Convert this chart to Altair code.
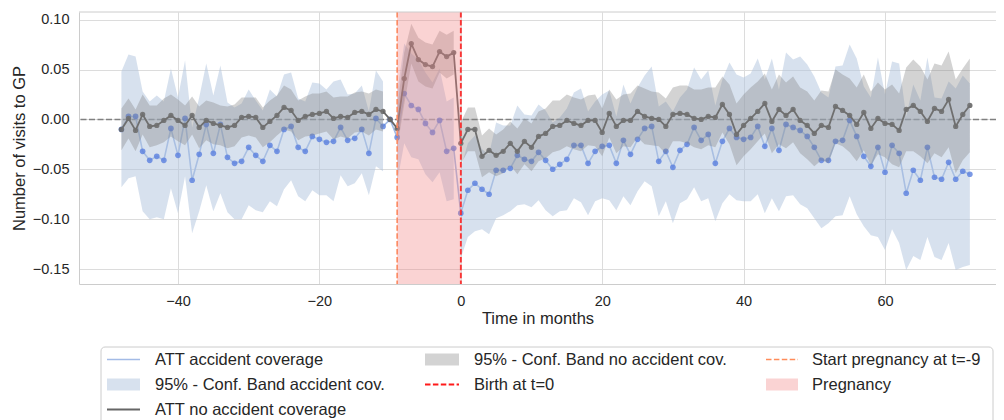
import altair as alt
import pandas as pd

# ---------------- data ----------------
months = list(range(-48, 73))

att_acc = [-0.010, 0.003, 0.003, -0.032, -0.041, -0.037, -0.041, -0.009, -0.036, 0.001,
           -0.061, -0.035, -0.005, -0.034, -0.005, -0.038, -0.044, -0.042, -0.028, -0.036,
           -0.042, -0.026, -0.032, -0.010, -0.007, -0.028, -0.032, -0.017, -0.020, -0.023,
           -0.022, -0.008, -0.021, -0.019, -0.010, -0.034, 0.001, -0.007, 0.000, -0.018,
           0.026, 0.014, 0.010, -0.004, -0.013, -0.001, -0.032, -0.029, -0.094, -0.071,
           -0.064, -0.070, -0.075, -0.051, -0.051, -0.049, -0.036, -0.040, -0.042, -0.033,
           -0.041, -0.050, -0.045, -0.040, -0.026, -0.026, -0.044, -0.032, -0.027, -0.026,
           -0.044, -0.021, -0.035, -0.020, -0.009, -0.007, -0.042, -0.032, -0.048, -0.031,
           -0.025, -0.008, -0.021, -0.015, -0.044, -0.022, -0.009, -0.018, -0.020, -0.018,
           -0.007, -0.027, -0.009, -0.031, -0.005, -0.008, -0.011, -0.017, -0.028, -0.041,
           -0.041, -0.022, -0.021, -0.001, -0.017, -0.037, -0.047, -0.028, -0.053, -0.026,
           -0.034, -0.074, -0.051, -0.061, -0.028, -0.058, -0.060, -0.043, -0.060, -0.052,
           -0.055]

acc_lo = [-0.068, -0.059, -0.057, -0.092, -0.100, -0.098, -0.100, -0.069, -0.094, -0.057,
          -0.114, -0.092, -0.066, -0.092, -0.074, -0.093, -0.100, -0.100, -0.086, -0.091,
          -0.093, -0.082, -0.087, -0.070, -0.061, -0.077, -0.082, -0.071, -0.076, -0.076,
          -0.082, -0.056, -0.067, -0.064, -0.054, -0.076, -0.047, -0.052, None, -0.063,
          -0.024, -0.038, -0.040, -0.055, -0.063, -0.053, -0.082, -0.080, -0.139, -0.118,
          -0.112, -0.110, -0.115, -0.099, -0.096, -0.092, -0.086, -0.085, -0.088, -0.081,
          -0.091, -0.097, -0.092, -0.091, -0.079, -0.083, -0.096, -0.082, -0.079, -0.081,
          -0.091, -0.077, -0.086, -0.072, -0.062, -0.067, -0.097, -0.082, -0.104, -0.084,
          -0.080, -0.068, -0.082, -0.079, -0.102, -0.084, -0.075, -0.081, -0.082, -0.082,
          -0.075, -0.094, -0.079, -0.092, -0.077, -0.076, -0.085, -0.089, -0.099, -0.109,
          -0.104, -0.097, -0.096, -0.077, -0.095, -0.107, -0.116, -0.118, -0.131, -0.110,
          -0.124, -0.151, -0.137, -0.141, -0.118, -0.138, -0.141, -0.124, -0.151, -0.148,
          -0.146]

acc_hi = [0.048, 0.065, 0.063, 0.028, 0.018, 0.024, 0.018, 0.051, 0.022, 0.059,
          -0.008, 0.022, 0.056, 0.024, 0.054, 0.017, 0.012, 0.016, 0.030, 0.019,
          0.009, 0.030, 0.023, 0.045, 0.047, 0.021, 0.018, 0.037, 0.036, 0.030,
          0.038, 0.040, 0.025, 0.026, 0.034, 0.008, 0.049, 0.038, None, 0.027,
          0.076, 0.066, 0.060, 0.047, 0.037, 0.051, 0.018, 0.022, -0.049, -0.024,
          -0.016, -0.030, -0.035, -0.003, -0.006, -0.006, 0.014, 0.005, 0.004, 0.015,
          0.009, -0.003, 0.002, 0.011, 0.027, 0.031, 0.008, 0.018, 0.025, 0.029,
          0.003, 0.035, 0.016, 0.032, 0.044, 0.053, 0.013, 0.018, 0.008, 0.022,
          0.030, 0.052, 0.040, 0.049, 0.014, 0.040, 0.057, 0.045, 0.042, 0.046,
          0.061, 0.040, 0.061, 0.030, 0.067, 0.060, 0.063, 0.055, 0.043, 0.027,
          0.022, 0.053, 0.054, 0.075, 0.061, 0.033, 0.022, 0.062, 0.025, 0.058,
          0.056, 0.003, 0.035, 0.019, 0.062, 0.022, 0.021, 0.038, 0.031, 0.044,
          0.036]

att_noacc = [-0.010, 0.001, -0.011, 0.005, -0.007, -0.006, -0.001, 0.004, -0.001, -0.006,
             0.004, -0.008, -0.001, -0.004, -0.006, -0.008, -0.006, 0.002, 0.003, 0.002,
             -0.008, -0.002, 0.004, 0.012, 0.009, -0.001, 0.003, 0.005, 0.006, 0.008,
             0.001, 0.003, 0.002, 0.007, 0.008, 0.005, 0.010, 0.008, 0.000, -0.009,
             0.041, 0.076, 0.060, 0.055, 0.053, 0.068, 0.063, 0.067, -0.024, -0.010,
             -0.010, -0.037, -0.031, -0.036, -0.032, -0.024, -0.032, -0.022, -0.028, -0.017,
             -0.014, -0.007, -0.006, -0.001, -0.004, -0.006, -0.001, -0.001, -0.013, 0.006,
             -0.007, -0.001, -0.001, 0.008, 0.003, 0.001, 0.000, -0.007, 0.005, 0.006,
             0.005, 0.001, 0.000, 0.003, 0.002, 0.015, 0.005, -0.015, -0.006, 0.001,
             0.008, 0.016, -0.002, 0.010, 0.004, 0.010, -0.001, -0.006, -0.014, -0.006,
             -0.008, 0.013, 0.009, 0.004, -0.005, 0.007, -0.009, 0.001, -0.004, -0.005,
             -0.011, 0.010, 0.014, 0.008, -0.002, 0.011, 0.008, 0.020, -0.007, 0.005,
             0.014]

noacc_lo = [-0.031, -0.019, -0.032, -0.015, -0.028, -0.026, -0.023, -0.017, -0.022, -0.026,
            -0.015, -0.029, -0.021, -0.025, -0.026, -0.029, -0.027, -0.018, -0.016, -0.018,
            -0.028, -0.023, -0.016, -0.010, -0.012, -0.021, -0.017, -0.016, -0.014, -0.012,
            -0.020, -0.017, -0.019, -0.013, -0.012, -0.016, -0.010, -0.012, None, -0.029,
            0.015, 0.056, 0.038, 0.033, 0.031, 0.047, 0.041, 0.045, -0.045, -0.032,
            -0.032, -0.058, -0.053, -0.057, -0.054, -0.046, -0.055, -0.045, -0.052, -0.042,
            -0.039, -0.033, -0.031, -0.027, -0.030, -0.032, -0.026, -0.027, -0.037, -0.018,
            -0.034, -0.027, -0.028, -0.018, -0.025, -0.026, -0.027, -0.035, -0.022, -0.022,
            -0.024, -0.028, -0.030, -0.026, -0.028, -0.013, -0.025, -0.046, -0.037, -0.030,
            -0.022, -0.014, -0.034, -0.025, -0.029, -0.023, -0.034, -0.040, -0.047, -0.041,
            -0.044, -0.024, -0.027, -0.033, -0.042, -0.031, -0.046, -0.035, -0.038, -0.045,
            -0.048, -0.032, -0.032, -0.037, -0.044, -0.034, -0.038, -0.028, -0.054, -0.041,
            -0.033]

noacc_hi = [0.011, 0.021, 0.010, 0.025, 0.014, 0.014, 0.021, 0.025, 0.020, 0.014,
            0.023, 0.013, 0.019, 0.017, 0.014, 0.013, 0.015, 0.022, 0.022, 0.022,
            0.012, 0.019, 0.024, 0.034, 0.030, 0.019, 0.023, 0.026, 0.026, 0.028,
            0.022, 0.023, 0.023, 0.027, 0.028, 0.026, 0.030, 0.028, None, 0.011,
            0.067, 0.096, 0.082, 0.077, 0.075, 0.089, 0.085, 0.089, -0.003, 0.012,
            0.012, -0.016, -0.009, -0.015, -0.010, -0.002, -0.009, 0.001, -0.004, 0.008,
            0.011, 0.019, 0.019, 0.025, 0.022, 0.020, 0.024, 0.025, 0.011, 0.030,
            0.020, 0.025, 0.026, 0.034, 0.031, 0.028, 0.027, 0.021, 0.032, 0.034,
            0.034, 0.030, 0.030, 0.032, 0.032, 0.043, 0.035, 0.016, 0.025, 0.032,
            0.038, 0.046, 0.030, 0.045, 0.037, 0.043, 0.032, 0.028, 0.019, 0.029,
            0.028, 0.050, 0.045, 0.041, 0.032, 0.045, 0.028, 0.037, 0.030, 0.035,
            0.026, 0.052, 0.060, 0.053, 0.040, 0.056, 0.054, 0.068, 0.040, 0.051,
            0.061]

preg_start = -9
birth = 0

legend_labels = ["ATT accident coverage", "95% - Conf. Band accident cov.",
                 "ATT no accident coverage", "95% - Conf. Band no accident cov.",
                 "Birth at t=0", "Start pregnancy at t=-9", "Pregnancy"]

# ---------------- tables ----------------
def segment(m):
    if m < preg_start - 1:
        return "pre"
    if preg_start <= m < birth:
        return "pregnancy"
    if m >= birth:
        return "post"
    return None

df = pd.DataFrame({"month": months, "att_acc": att_acc, "att_noacc": att_noacc,
                   "acc_lo": acc_lo, "acc_hi": acc_hi,
                   "noacc_lo": noacc_lo, "noacc_hi": noacc_hi})
df["seg"] = [segment(m) for m in months]
bands = df.dropna(subset=["acc_lo"]).copy()

one = pd.DataFrame({"k": [0]})

# ---------------- geometry / style ----------------
W, H = 917, 272
FONT = "Liberation Sans, Arial, sans-serif"
TXT = "#262626"
GRID = "#dcdcdc"

xscale = alt.Scale(domain=[-54, 75.7], nice=False, zero=False)
yscale = alt.Scale(domain=[-0.165, 0.1077], nice=False, zero=False)
xaxis = alt.Axis(values=[-40, -20, 0, 20, 40, 60], title="Time in months",
                 labelExpr="replace(datum.label, '-', '\u2212')")
yaxis = alt.Axis(values=[-0.15, -0.10, -0.05, 0.0, 0.05, 0.10], title="Number of visits to GP",
                 labelExpr="replace(format(datum.value, '.2f'), '-', '\u2212')")


def X(field="month"):
    return alt.X(f"{field}:Q", scale=xscale, axis=xaxis, title="Time in months")


def Y(field):
    return alt.Y(f"{field}:Q", scale=yscale, axis=yaxis, title="Number of visits to GP")


zero_line = alt.Chart(pd.DataFrame({"v": [0.0]})).mark_rule(
    color="#808080", strokeWidth=1.5, strokeDash=[6, 2.5]).encode(y=Y("v"))

base = alt.Chart(df)
acc_line = base.mark_line(color="#a3bbe6", strokeWidth=1.6).encode(x=X(), y=Y("att_acc"))
acc_band = alt.Chart(bands).mark_area(color="#b0c4de", opacity=0.5).encode(
    x=X(), y=Y("acc_lo"), y2="acc_hi:Q", detail="seg:N")
acc_pts = base.mark_circle(color="#5a80de", opacity=0.8, size=32).encode(x=X(), y=Y("att_acc"))
no_line = base.mark_line(color="#666666", strokeWidth=1.8).encode(x=X(), y=Y("att_noacc"))
no_pts = base.mark_circle(color="#666666", opacity=0.9, size=28).encode(x=X(), y=Y("att_noacc"))
no_band = alt.Chart(bands).mark_area(color="#808080", opacity=0.35).encode(
    x=X(), y=Y("noacc_lo"), y2="noacc_hi:Q", detail="seg:N")

birth_rule = alt.Chart(pd.DataFrame({"month": [birth]})).mark_rule(
    color="#ff1a1a", strokeWidth=1.8, strokeDash=[5.5, 2.4]).encode(x=X())
start_rule = alt.Chart(pd.DataFrame({"month": [preg_start]})).mark_rule(
    color="#ff8c5a", strokeWidth=1.6, strokeDash=[5.5, 2.4]).encode(x=X())
preg_span = alt.Chart(pd.DataFrame({"month": [preg_start], "month_end": [birth]})).mark_rect(
    color="#f08080", opacity=0.35).encode(x=X(), x2="month_end:Q",
                                           y=alt.value(0), y2=alt.value(H))

top_frame = alt.Chart(one).mark_rule(color="#cccccc", strokeWidth=1).encode(
    x=alt.value(0), x2=alt.value(W), y=alt.value(0))

# ---------------- legend (drawn below the plot) ----------------
LX0, LX1, LY0 = 22, 914, 335
rows = [347.5, 372.5, 397.5]
cols_sym = [(28, 61), (346, 380), (687, 719)]
cols_txt = [76, 395, 733]

leg = [alt.Chart(one).mark_rect(fill="white", stroke="#cccccc", strokeWidth=1, cornerRadius=4).encode(
    x=alt.value(LX0), x2=alt.value(LX1), y=alt.value(LY0), y2=alt.value(LY0 + 120))]


def sym_line(c, r, color, width, dash=None):
    kw = dict(color=color, strokeWidth=width)
    if dash:
        kw["strokeDash"] = dash
    return alt.Chart(one).mark_rule(**kw).encode(
        x=alt.value(cols_sym[c][0]), x2=alt.value(cols_sym[c][1]), y=alt.value(rows[r]))


def sym_patch(c, r, color, opacity):
    return alt.Chart(one).mark_rect(color=color, opacity=opacity).encode(
        x=alt.value(cols_sym[c][0]), x2=alt.value(cols_sym[c][1]),
        y=alt.value(rows[r] - 6), y2=alt.value(rows[r] + 6))


leg += [
    sym_line(0, 0, "#a3bbe6", 1.6),
    sym_patch(0, 1, "#b0c4de", 0.5),
    sym_line(0, 2, "#666666", 1.8),
    sym_patch(1, 0, "#808080", 0.35),
    sym_line(1, 1, "#ff1a1a", 1.8, [5.5, 2.4]),
    sym_line(2, 0, "#ff8c5a", 1.6, [5.5, 2.4]),
    sym_patch(2, 1, "#f08080", 0.35),
]
positions = [(0, 0), (0, 1), (0, 2), (1, 0), (1, 1), (2, 0), (2, 1)]
for label, (c, r) in zip(legend_labels, positions):
    leg.append(alt.Chart(one).mark_text(
        text=label, align="left", baseline="middle", font=FONT, fontSize=16.5, color=TXT).encode(
        x=alt.value(cols_txt[c]), y=alt.value(rows[r])))

chart = alt.layer(
    zero_line, acc_line, acc_band, acc_pts, no_line, no_pts, no_band,
    birth_rule, start_rule, preg_span, top_frame, *leg
).properties(
    width=W, height=H,
    autosize=alt.AutoSizeParams(type="none"),
    padding={"left": 71, "top": 4, "right": 0, "bottom": 136},
).configure_view(strokeWidth=0).configure_axis(
    labelFont=FONT, titleFont=FONT, labelFontSize=14.5, titleFontSize=16.5,
    labelColor=TXT, titleColor=TXT, titleFontWeight="normal",
    gridColor=GRID, gridWidth=1, domainColor="#cccccc", domainWidth=1,
    ticks=False, tickSize=0, labelPadding=10,
).configure_axisX(titlePadding=3).configure_axisY(titlePadding=5)

chart.save("out.html", embed_options={"renderer": "svg", "actions": False})
